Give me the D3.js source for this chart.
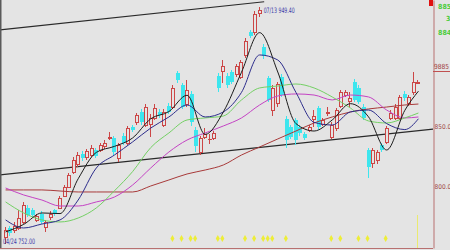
<!DOCTYPE html>
<html>
<head>
<meta charset="utf-8">
<script src="https://cdn.jsdelivr.net/npm/d3@7/dist/d3.min.js"></script>
<style>
html, body { margin: 0; padding: 0; background: #e4e4e4; }
svg { display: block; font-family: "DejaVu Sans Condensed", "Liberation Sans Narrow", Arial, sans-serif; }
</style>
</head>
<body>
<svg id="chart" width="450" height="250"></svg>
<script>
// K线数据: 开盘 / 收盘 / 最高 / 最低
const opens = [757.5, 765, 763, 765, 770, 782, 780, 772, 777, 766, 774, 780, 782, 792, 799, 812, 818, 827, 824, 826,
  830, 830, 833, 840, 840, 823, 842, 836, 849, 853, 862, 851, 852, 857, 862, 851, 867, 866, 894, 884,
  868, 877, 847, 828, 841, 839, 840, 892, 896, 892, 895, 893, 891, 909, 928, 928, 944, 916, 890, 863,
  869, 891, 856, 849, 855, 849, 843, 847, 856, 865, 852, 861, 841, 848, 867, 876, 871, 887, 882, 866,
  830, 819, 822, 834, 837, 857, 857, 857, 877, 869, 878, 886];
const closes = [763, 761, 767, 773, 784, 776, 776, 775, 770, 770, 777, 777, 790, 799, 809, 822, 826, 823, 829, 832,
  825, 834, 836, 841, 828, 834, 836, 848, 847, 859, 853, 866, 857, 865, 859, 862, 862, 882, 888, 866,
  880, 853, 833, 840, 843, 839.5, 844, 882, 900, 884, 887, 900, 903, 921, 925, 943, 947, 908, 872, 882,
  885, 876, 838, 841, 838, 844, 840, 849, 858, 849, 855, 862, 851, 863, 878, 878, 873, 872, 870, 857,
  816, 830, 828, 830, 848, 861, 866, 874, 873, 874, 887, 887];
const highs = [766, 767, 770, 780, 787, 784, 782, 777, 779, 772, 779, 781, 792, 801, 811, 824, 828, 829, 831, 834,
  832, 836, 838, 845, 842, 836, 844, 850, 851, 861, 864, 868, 860, 868, 864, 864, 869, 884, 896, 886,
  888, 879, 849, 842, 848, 843, 846, 894, 905, 894, 897, 902, 905, 923, 930, 946, 949.4, 918, 892, 884,
  887, 893, 858, 851, 857, 851, 845, 851, 863, 867, 857, 866, 853, 865, 880, 880, 878, 889, 884, 868,
  832, 832, 830, 836, 850, 863, 868, 876, 879, 876, 895, 888];
const lows = [752, 758, 761, 763, 768, 774, 774, 770, 768, 762, 772, 775, 781, 791, 798, 810, 816, 821, 822, 824,
  823, 828, 831, 838, 826, 820, 834, 834, 845, 851, 851, 849, 841, 855, 857, 849, 860, 864, 886, 864,
  866, 850, 828, 826, 839, 835, 838, 878, 886, 882, 885, 891, 889, 907, 923, 926, 941, 906, 870, 858,
  866, 874, 832, 839, 834, 842, 838, 845, 849, 847, 850, 858, 839, 846, 865, 874, 866, 870, 868, 855,
  807, 815, 818, 828, 835, 855, 855, 855, 871, 867, 876, 885];

// 均线读数 (每 4 根 K 线取一点)
const maIdx = [0, 4, 8, 12, 16, 20, 24, 28, 32, 36, 40, 44, 48, 52, 56, 60, 64, 68, 72, 76, 80, 84, 88, 91];
const ma5 = [761.7, 768, 777.5, 777, 806, 828, 833, 840, 856, 862, 875.6, 843, 861.7, 894.8, 927.8, 895,
  852, 845.8, 855, 868.6, 857.6, 830, 863, 879];
const ma10 = [771.7, 765, 768.3, 771.7, 788.3, 815, 825.8, 836.7, 848.3, 857.5, 867.5, 857.5, 861.7, 878, 909.2, 905,
  878, 853, 850.8, 861.7, 863.3, 852, 847, 856];
const ma20 = [786.7, 777.5, 771.7, 770, 773.3, 781.7, 796, 812, 832, 844.2, 855, 856.7, 858.3, 871.7, 881.7, 883.3,
  885, 881.7, 874.2, 865, 854.2, 852.5, 856.7, 860.8];
const ma30 = [798.3, 792.5, 788.3, 783.3, 783.3, 786.7, 790.8, 800.8, 815, 828.3, 838.3, 844.2, 850, 856.7, 867.5, 875,
  876.7, 875.8, 871.7, 875.8, 874.2, 863.3, 856.7, 857.5];
const ma60 = [796.7, 796.7, 796.7, 795.8, 795, 795, 795, 795, 800, 805, 810, 813.3, 817.5, 825.8, 832.5, 839.2,
  845.8, 852.5, 857.5, 861.7, 864.2, 865.8, 867.5, 868.3];

// 趋势线 (K 线序号, 价格)
const trendUp = [[-1, 930.2], [57, 953.5]];
const trendDown = [[-1, 809.3], [94, 847.3]];

// 底部信号位置 (K 线序号)
const markIdx = [37, 39, 41, 42, 47, 48, 53, 55, 57, 58, 59, 62, 72, 74, 78, 80, 84];

// 右侧刻度
const priceTicks = [800, 850];
const hiDate = '07/13';
const loDate = '04/24';

const plotR = 433, plotB = 248;
const svg = d3.select('#chart');
const n = closes.length;

// 比例尺
const x = d3.scaleBand().domain(d3.range(n)).range([4, 420]).paddingInner(0.3);
const xi = d3.scaleLinear().domain([0, n - 1])
  .range([x(0) + x.bandwidth() / 2, x(n - 1) + x.bandwidth() / 2]);
const y = d3.scaleLinear().domain([748.3, 955]).range([plotB, 0]);

svg.append('rect').attr('width', 450).attr('height', 250).attr('fill', '#e4e4e4');

svg.append('clipPath').attr('id', 'plot')
  .append('rect').attr('x', 0).attr('y', 0).attr('width', plotR).attr('height', plotB);

const g = svg.append('g').attr('clip-path', 'url(#plot)');

// 趋势线
function trend(pts, iEnd) {
  const [a, b] = pts;
  const k = (b[1] - a[1]) / (b[0] - a[0]);
  const i0 = xi.invert(0);
  const i1 = iEnd == null ? xi.invert(plotR) : iEnd;
  g.append('line')
    .attr('x1', xi(i0)).attr('y1', y(a[1] + k * (i0 - a[0])))
    .attr('x2', xi(i1)).attr('y2', y(a[1] + k * (i1 - a[0])))
    .attr('stroke', '#2a2a2a').attr('stroke-width', 1.1);
}
trend(trendUp, trendUp[1][0]);
trend(trendDown);

// K 线
const up = '#cc4646', down = '#3de6ee';
const candles = g.append('g');
d3.range(n).forEach(i => {
  const o = opens[i], c = closes[i];
  const xc = Math.round(xi(i));
  const col = c >= o ? up : down;
  candles.append('line')
    .attr('x1', xc - 0.5).attr('x2', xc - 0.5)
    .attr('y1', Math.round(y(highs[i]))).attr('y2', Math.round(y(lows[i])))
    .attr('stroke', col).attr('stroke-width', 1);
  const top = Math.round(y(Math.max(o, c)));
  const bot = Math.round(y(Math.min(o, c)));
  if (Math.abs(c - o) < 1) {
    candles.append('line')
      .attr('x1', xc - 2).attr('x2', xc + 2)
      .attr('y1', top + 0.5).attr('y2', top + 0.5)
      .attr('stroke', col);
  } else if (c > o) {
    candles.append('rect')
      .attr('x', xc - 1.5).attr('y', top + 0.5)
      .attr('width', 3).attr('height', Math.max(1, bot - top))
      .attr('fill', '#e4e4e4').attr('stroke', col).attr('stroke-width', 1);
  } else {
    candles.append('rect')
      .attr('x', xc - 2).attr('y', top)
      .attr('width', 4).attr('height', Math.max(1, bot - top))
      .attr('fill', col);
  }
});

// 均线
const line = d3.line()
  .x((d, k) => xi(maIdx[k]))
  .y(d => y(d))
  .curve(d3.curveMonotoneX);
[[ma60, '#a83a3a'], [ma30, '#c443c4'], [ma20, '#74d064'], [ma10, '#2d2d8c'], [ma5, '#1c1c1c']]
  .forEach(([vals, col]) => {
    g.append('path').attr('d', line(vals))
      .attr('fill', 'none').attr('stroke', col).attr('stroke-width', 1);
  });

// 最高 / 最低 标注
const hiI = d3.maxIndex(highs), loI = d3.minIndex(lows);
g.append('text')
  .attr('x', xi(hiI) + 4).attr('y', y(highs[hiI]) + 6)
  .attr('font-size', 7.5).attr('fill', '#3a3aa8')
  .attr('textLength', 31).attr('lengthAdjust', 'spacingAndGlyphs')
  .text(`${hiDate} ${d3.format('.2f')(highs[hiI])}`);
g.append('text')
  .attr('x', 3).attr('y', y(lows[loI]))
  .attr('font-size', 7.5).attr('fill', '#3a3aa8')
  .attr('textLength', 32).attr('lengthAdjust', 'spacingAndGlyphs')
  .text(`${loDate} ${d3.format('.2f')(lows[loI])}`);

// 底部黄色信号
g.append('g').selectAll('path').data(markIdx).join('path')
  .attr('d', d3.symbol(d3.symbolDiamond, 14))
  .attr('transform', d => `translate(${xi(d) - 1},238.5)`)
  .attr('fill', '#eded38');
g.append('line')
  .attr('x1', Math.round(xi(n - 1)) - 0.5).attr('x2', Math.round(xi(n - 1)) - 0.5)
  .attr('y1', 215).attr('y2', plotB)
  .attr('stroke', '#eaea70').attr('stroke-width', 1);

// 边框
svg.append('line').attr('x1', 0.5).attr('x2', 0.5).attr('y1', 0).attr('y2', plotB)
  .attr('stroke', '#5a5a5a').attr('stroke-width', 2);
svg.append('line').attr('x1', 0).attr('x2', plotR).attr('y1', plotB + 0.5).attr('y2', plotB + 0.5)
  .attr('stroke', '#b87070');

// 右侧坐标轴
const axis = svg.append('g').attr('transform', `translate(${plotR + 0.5},0)`)
  .call(d3.axisRight(y).tickValues(priceTicks).tickFormat(d3.format('.1f'))
    .tickSize(0).tickSizeOuter(0).tickPadding(1));
axis.select('.domain').attr('stroke', '#b87070');
axis.selectAll('text').attr('font-size', 6.5).attr('fill', '#a04848')
  .attr('font-family', '"DejaVu Sans Condensed", Arial, sans-serif');

// 右上角标签
svg.append('rect').attr('x', 429).attr('y', 0).attr('width', 4).attr('height', 6).attr('fill', '#e01010');
const side = svg.append('g').attr('font-size', 7).attr('font-weight', 'bold');
side.append('text').attr('x', 438).attr('y', 9).attr('fill', '#4ccc3c').text('885');
side.append('text').attr('x', 446).attr('y', 21).attr('fill', '#4ccc3c').text('3');
side.append('text').attr('x', 438).attr('y', 35).attr('fill', '#4ccc3c').text('884');
side.append('text').attr('x', 434).attr('y', 69).attr('fill', '#a04040').attr('font-weight', 'normal')
  .attr('textLength', 15).attr('lengthAdjust', 'spacingAndGlyphs').text('9885');
svg.append('line').attr('x1', plotR).attr('x2', 450).attr('y1', 71.5).attr('y2', 71.5).attr('stroke', '#c05050');
</script>
</body>
</html>
